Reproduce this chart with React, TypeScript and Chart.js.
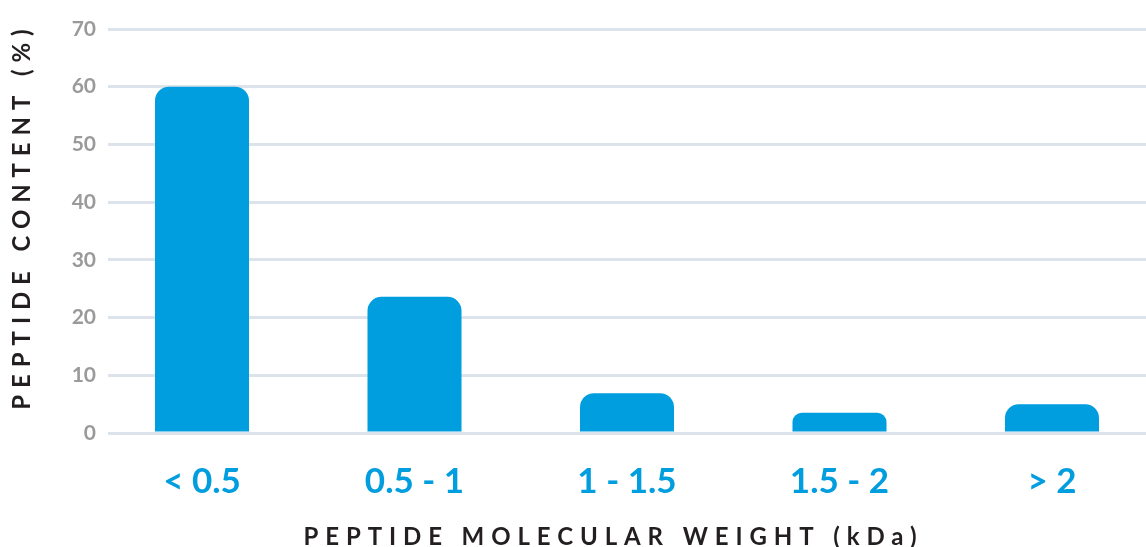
import React, { useEffect, useRef } from "react";
import { Chart, registerables } from "chart.js";

Chart.register(...registerables);

const categories = ["< 0.5", "0.5 - 1", "1 - 1.5", "1.5 - 2", "> 2"];
const peptideContent = [60, 23.6, 6.9, 3.5, 5.0];
const yTicks = [0, 10, 20, 30, 40, 50, 60, 70];
const xTitle = "PEPTIDE MOLECULAR WEIGHT (kDa)";
const yTitle = "PEPTIDE CONTENT (%)";

const BLUE = "#009ddf";
const FONT = "Lato";

const titlePlugin = {
  id: "spacedTitles",
  afterDraw(chart: any) {
    const { ctx, chartArea } = chart;
    const spacing = 6.9;
    ctx.save();
    ctx.font = `bold 24px ${FONT}`;
    ctx.fillStyle = "#231f20";
    (ctx as any).letterSpacing = `${spacing}px`;
    ctx.textAlign = "center";
    ctx.textBaseline = "middle";
    const cx = (chartArea.left + chartArea.right) / 2 - 17;
    ctx.fillText(xTitle, cx + spacing / 2, 537);
    ctx.translate(22, 219.5);
    ctx.rotate(-Math.PI / 2);
    ctx.fillText(yTitle, spacing / 2, 0);
    ctx.restore();
  },
};

export default function App() {
  const canvasRef = useRef<HTMLCanvasElement | null>(null);

  useEffect(() => {
    if (!canvasRef.current) return;
    const chart = new Chart(canvasRef.current, {
      type: "bar",
      data: {
        datasets: [
          {
            data: peptideContent.map((v, i) => ({ x: i, y: v })),
            backgroundColor: BLUE,
            borderWidth: 0,
            borderRadius: { topLeft: 14, topRight: 14, bottomLeft: 0, bottomRight: 0 },
            borderSkipped: "start",
            categoryPercentage: 1,
            barPercentage: 0.4424,
          },
        ],
      },
      options: {
        animation: false,
        responsive: true,
        maintainAspectRatio: false,
        layout: { padding: { top: 29, left: 0, right: 0, bottom: 0 } },
        plugins: {
          legend: { display: false },
          tooltip: { enabled: false },
        },
        scales: {
          x: {
            type: "linear",
            offset: false,
            min: -0.4424,
            max: 4.4424,
            grid: { display: false, offset: false },
            border: { display: false },
            afterBuildTicks: (scale: any) => {
              scale.ticks = categories.map((_, i) => ({ value: i }));
            },
            afterFit: (scale: any) => {
              scale.height = 114;
            },
            ticks: {
              color: BLUE,
              font: { family: FONT, weight: "bold", size: 35 },
              padding: 20,
              maxRotation: 0,
              autoSkip: false,
              callback: (value: any) => categories[Math.round(Number(value))] ?? "",
            },
          },
          y: {
            min: 0,
            max: 70,
            afterBuildTicks: (scale: any) => {
              scale.ticks = yTicks.map((v) => ({ value: v }));
            },
            afterFit: (scale: any) => {
              scale.width = 108;
            },
            grid: { color: "#dde3ea", lineWidth: 3, drawTicks: false },
            border: { display: false },
            ticks: {
              color: "#9a9a9a",
              font: { family: FONT, weight: "bold", size: 21 },
              padding: 12,
            },
          },
        },
      },
      plugins: [titlePlugin],
    });
    return () => chart.destroy();
  }, []);

  return (
    <div style={{ position: "absolute", left: 0, top: 0, width: 1146, height: 547, background: "#fff" }}>
      <canvas ref={canvasRef} />
    </div>
  );
}
